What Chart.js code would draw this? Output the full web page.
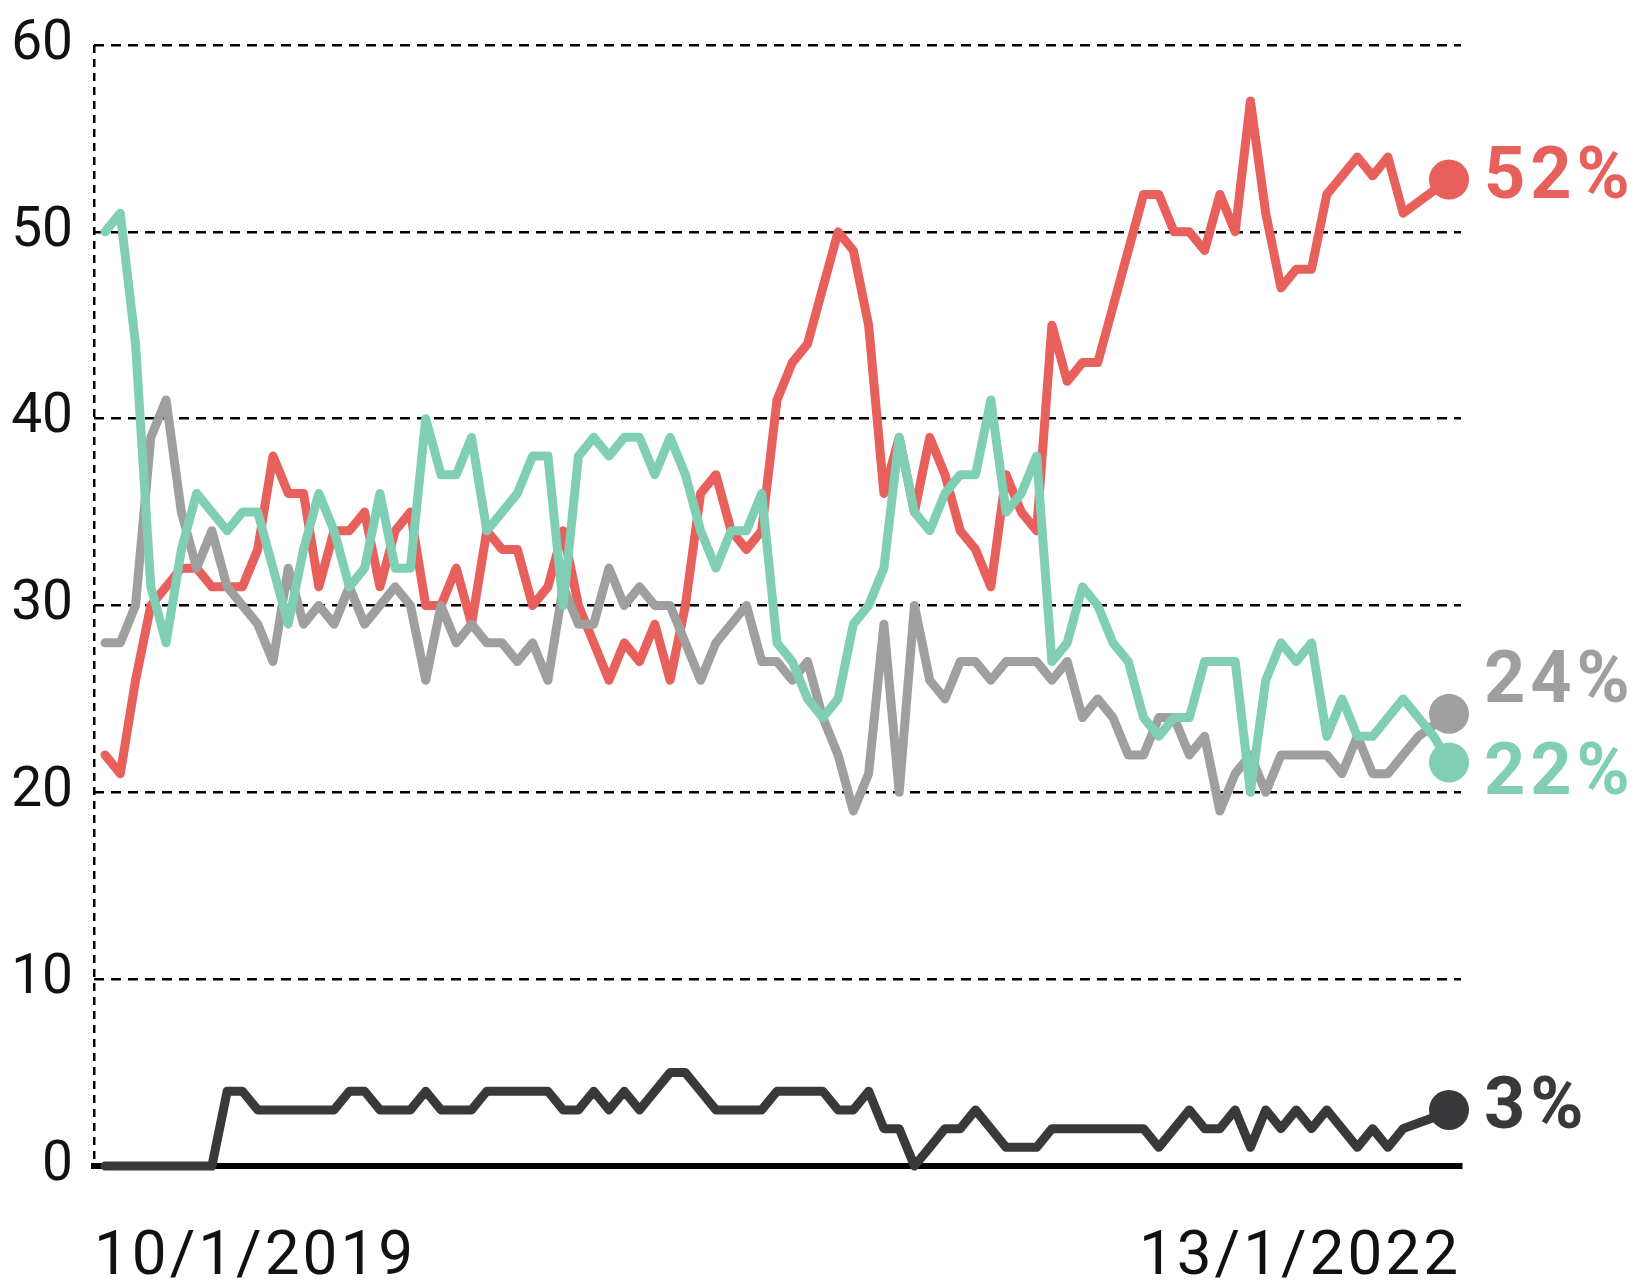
<!DOCTYPE html>
<html>
<head>
<meta charset="utf-8">
<script src="https://cdn.jsdelivr.net/npm/chart.js@4/dist/chart.umd.min.js"></script>
<style>
  html, body { margin: 0; padding: 0; background: #ffffff; }
  #wrap { width: 1640px; height: 1282px; position: relative; }
  canvas { display: block; }
</style>
</head>
<body>
<div id="wrap"><canvas id="chart" width="1640" height="1282"></canvas></div>
<script>
// ---- Data ----
const xTickLabels = ['10/1/2019', '13/1/2022'];
const yTickValues = [0, 10, 20, 30, 40, 50, 60];
const seriesNames = ['red', 'gray', 'teal', 'dark'];
const endLabels = ['52%', '24%', '22%', '3%'];

const redValues = [
  22, 21, 26, 30, 31, 32, 32, 31, 31, 31,
  33, 38, 36, 36, 31, 34, 34, 35, 31, 34,
  35, 30, 30, 32, 29, 34, 33, 33, 30, 31,
  34, 30, 28, 26, 28, 27, 29, 26, 30, 36,
  37, 34, 33, 34, 41, 43, 44, 47, 50, 49,
  45, 36, 39, 35, 39, 37, 34, 33, 31, 37,
  35, 34, 45, 42, 43, 43, 46, 49, 52, 52,
  50, 50, 49, 52, 50, 57, 51, 47, 48, 48,
  52, 53, 54, 53, 54, 51, 51.6, 52.2, 52.8
];
const grayValues = [
  28, 28, 30, 39, 41, 35, 32, 34, 31, 30,
  29, 27, 32, 29, 30, 29, 31, 29, 30, 31,
  30, 26, 30, 28, 29, 28, 28, 27, 28, 26,
  31, 29, 29, 32, 30, 31, 30, 30, 28, 26,
  28, 29, 30, 27, 27, 26, 27, 24, 22, 19,
  21, 29, 20, 30, 26, 25, 27, 27, 26, 27,
  27, 27, 26, 27, 24, 25, 24, 22, 22, 24,
  24, 22, 23, 19, 21, 22, 20, 22, 22, 22,
  22, 21, 23, 21, 21, 22, 23, 23.6, 24.2
];
const tealValues = [
  50, 51, 44, 31, 28, 33, 36, 35, 34, 35,
  35, 32, 29, 33, 36, 34, 31, 32, 36, 32,
  32, 40, 37, 37, 39, 34, 35, 36, 38, 38,
  30, 38, 39, 38, 39, 39, 37, 39, 37, 34,
  32, 34, 34, 36, 28, 27, 25, 24, 25, 29,
  30, 32, 39, 35, 34, 36, 37, 37, 41, 35,
  36, 38, 27, 28, 31, 30, 28, 27, 24, 23,
  24, 24, 27, 27, 27, 20, 26, 28, 27, 28,
  23, 25, 23, 23, 24, 25, 24, 23, 21.6
];
const darkValues = [
  0, 0, 0, 0, 0, 0, 0, 0, 4, 4,
  3, 3, 3, 3, 3, 3, 4, 4, 3, 3,
  3, 4, 3, 3, 3, 4, 4, 4, 4, 4,
  3, 3, 4, 3, 4, 3, 4, 5, 5, 4,
  3, 3, 3, 3, 4, 4, 4, 4, 3, 3,
  4, 2, 2, 0, 1, 2, 2, 3, 2, 1,
  1, 1, 2, 2, 2, 2, 2, 2, 2, 1,
  2, 3, 2, 2, 3, 1, 3, 2, 3, 2,
  3, 2, 1, 2, 1, 2, 2.3, 2.6, 3
];

// ---- Styles ----
const COLORS = { red: '#E8605C', gray: '#A09F9F', teal: '#80CFB5', dark: '#39393B' };
const LABEL_DY = { red: 0, gray: -30, teal: 14, dark: 0 };
const LINE_W = 9;

const valuesByName = { red: redValues, gray: grayValues, teal: tealValues, dark: darkValues };
const toPoints = arr => arr.map((v, i) => ({ x: i, y: v }));
const lastOnly = (arr, r) => arr.map((v, i) => (i === arr.length - 1 ? r : 0));

// draw order: first dataset on top
const drawOrder = ['teal', 'gray', 'red', 'dark'];
const datasets = drawOrder.map(name => ({
  label: name,
  data: toPoints(valuesByName[name]),
  borderColor: COLORS[name],
  backgroundColor: COLORS[name],
  borderWidth: LINE_W,
  pointRadius: lastOnly(valuesByName[name], 20),
  pointHoverRadius: 0,
  pointBorderWidth: 0,
  tension: 0,
  borderJoinStyle: 'round',
  borderCapStyle: 'round',
  clip: false
}));

const xSpacing = {
  id: 'xSpacing',
  beforeDraw(chart) {
    const s = chart.scales.x;
    if (!s._spaced) {
      const orig = s.drawLabels.bind(s);
      s.drawLabels = function (area) {
        const c = this.ctx;
        c.save();
        c.letterSpacing = '3px';
        orig(area);
        c.restore();
      };
      s._spaced = true;
    }
  }
};

const endLabelPlugin = {
  id: 'endLabels',
  afterDatasetsDraw(chart) {
    const ctx = chart.ctx;
    chart.data.datasets.forEach((ds, di) => {
      const name = ds.label;
      const meta = chart.getDatasetMeta(di);
      const pt = meta.data[meta.data.length - 1];
      const text = endLabels[seriesNames.indexOf(name)];
      ctx.save();
      ctx.font = 'bold 72px Roboto';
      ctx.letterSpacing = '5px';
      ctx.textAlign = 'left';
      ctx.textBaseline = 'middle';
      ctx.fillStyle = COLORS[name];
      ctx.fillText(text, pt.x + 35, pt.y + LABEL_DY[name]);
      ctx.restore();
    });
  }
};

const lastIndex = redValues.length - 1;

new Chart(document.getElementById('chart'), {
  type: 'line',
  data: { datasets },
  plugins: [xSpacing, endLabelPlugin],
  options: {
    responsive: false,
    animation: false,
    devicePixelRatio: 1,
    layout: { padding: { top: 45, right: 179, bottom: 0, left: 0 } },
    plugins: { legend: { display: false }, tooltip: { enabled: false } },
    elements: { line: { borderWidth: LINE_W } },
    scales: {
      x: {
        type: 'linear',
        min: -0.72,
        max: lastIndex + 0.786,
        afterBuildTicks: s => { s.ticks = [{ value: s.min }, { value: s.max }]; },
        afterFit: s => { s.height = 116; },
        grid: {
          display: true,
          drawTicks: false,
          lineWidth: 2.5,
          color: c => (c.index === 0 ? '#000000' : 'rgba(0,0,0,0)')
        },
        border: { display: true, color: '#000000', width: 6, dash: [8, 6] },
        ticks: {
          align: 'inner',
          maxRotation: 0,
          autoSkip: false,
          padding: 55,
          color: '#111111',
          font: { family: 'Roboto', size: 62 },
          callback: (v, i) => xTickLabels[i]
        }
      },
      y: {
        min: 0,
        max: 60,
        afterBuildTicks: s => { s.ticks = yTickValues.map(v => ({ value: v })); },
        afterFit: s => { s.width = 94; s.paddingTop = 0; s.paddingBottom = 0; },
        grid: { display: true, drawTicks: false, lineWidth: 2.5, color: '#000000' },
        border: { display: false, dash: [10, 7] },
        ticks: {
          padding: 21,
          color: '#111111',
          font: { family: 'Roboto', size: 55 }
        }
      }
    }
  }
});
</script>
</body>
</html>
